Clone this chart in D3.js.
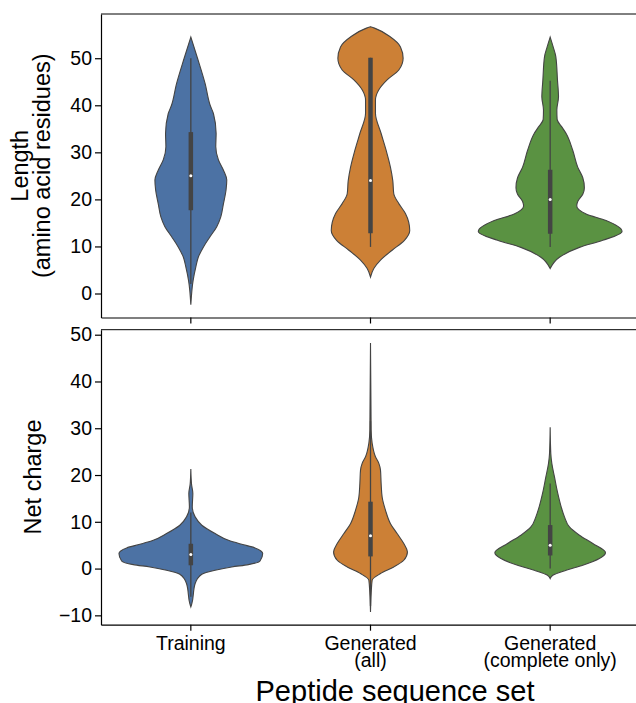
<!DOCTYPE html>
<html>
<head>
<meta charset="utf-8">
<script src="https://cdn.jsdelivr.net/npm/d3@7"></script>
<style>
  body { margin: 0; background: #fff; }
  text { font-family: "Liberation Sans", Arial, sans-serif; }
</style>
</head>
<body>
<div id="chart"></div>
<script>
// categories and colours
const categories = ["Training", "Generated\n(all)", "Generated\n(complete only)"];
const colors = ["#4c72a4", "#cc8036", "#5a9242"];

// density profiles: [value, relative density]
const lengthTraining = [[-2.4,0],[2.8,.032],[5.6,.069],[7.8,.106],[9.9,.176],[12.1,.269],[14.2,.361],[16.3,.417],[19.1,.454],[22,.49],[24.1,.5],[26.2,.454],[28.4,.384],[31.2,.347],[34,.352],[38.2,.315],[40,.269],[44.6,.199],[50,.093],[54.5,0]];
const lengthGenAll = [[3.5,0],[5.3,.046],[7.1,.139],[9.2,.301],[11.3,.472],[13.4,.546],[17,.486],[19.1,.394],[21.2,.324],[24,.31],[26.8,.278],[30.4,.218],[34,.148],[38.3,.069],[41.1,.069],[43.3,.116],[45.4,.231],[47.5,.394],[50,.454],[52.4,.417],[54.5,.278],[56.4,.056],[56.7,0]];
const lengthGenComplete = [[5.3,0],[7.7,.129],[9.8,.407],[11.3,.732],[13.2,1],[15.5,.778],[16.9,.5],[18.6,.37],[19.6,.385],[21.1,.454],[22.5,.476],[24.6,.454],[26.8,.385],[30.4,.315],[34,.222],[35.3,.167],[37,.097],[39,.093],[41.8,.116],[45.3,.102],[50.3,.079],[52.4,.042],[54.5,0]];

const chargeTraining = [[-8.2,0],[-7.5,.014],[-3.2,.06],[-1.22,.153],[-0.36,.338],[0.35,.569],[0.85,.801],[1.63,.963],[3.2,1],[4.42,.893],[5.2,.708],[6.06,.523],[7.49,.338],[9.27,.153],[11.05,.06],[13.2,.02],[16.06,.028],[18,.01],[21.3,0]];
const chargeGenAll = [[-9.3,0],[-5.35,.009],[-2.5,.023],[-1.07,.139],[0.35,.324],[1.78,.463],[3.56,.514],[5.35,.463],[7.5,.37],[9.6,.278],[12.5,.208],[15.3,.162],[18.2,.148],[21.05,.139],[22.5,.116],[23.9,.069],[26.8,.023],[29.6,.009],[48.2,0]];
const chargeGenComplete = [[-2.14,0],[-1.43,.037],[-0.36,.222],[0.71,.454],[2.14,.685],[3.4,.77],[5.35,.593],[7.13,.407],[8.9,.268],[11.05,.199],[13.2,.153],[16.06,.106],[19.6,.06],[22.5,.023],[24.6,.009],[30.2,0]];

// box stats: [whisker low, q1, median, q3, whisker high]
const lengthBoxes = [[2, 17.7, 25, 34.3, 50], [9.9, 12.8, 24, 50.1, 50.1], [9.9, 12.7, 20, 26.3, 45.2]];
const chargeBoxes = [[-6, 0.7, 3, 5.3, 12], [-8, 2.6, 7, 14.3, 31.5], [0, 2.8, 5, 9.3, 18.2]];

const lengthTicks = [0, 10, 20, 30, 40, 50];
const chargeTicks = [-10, 0, 10, 20, 30, 40, 50];

var W = 636, H = 703;
var margins = { left: 101, right: -4 };

var svg = d3.select("#chart").append("svg")
  .attr("width", W).attr("height", H);

var x = d3.scaleBand().domain([0, 1, 2]).range([margins.left, W - margins.right]).padding(0);

function drawPanel(top, bottom, domain, ticks, profiles, boxes, showLabels) {
  var y = d3.scaleLinear().domain(domain).range([bottom, top]);
  var w = d3.scaleLinear().domain([0, 1]).range([0, x.bandwidth() * 0.4]);
  var g = svg.append("g");

  profiles.forEach(function (prof, i) {
    var cx = x(i) + x.bandwidth() / 2;
    var area = d3.area()
      .y(function (d) { return y(d[0]); })
      .x0(function (d) { return cx - w(d[1]); })
      .x1(function (d) { return cx + w(d[1]); })
      .curve(d3.curveMonotoneY);
    g.append("path").datum(prof)
      .attr("d", area)
      .attr("fill", colors[i])
      .attr("stroke", "#444")
      .attr("stroke-width", 1.1);

    var b = boxes[i];
    g.append("line")
      .attr("x1", cx).attr("x2", cx)
      .attr("y1", y(b[0])).attr("y2", y(b[4]))
      .attr("stroke", "#444").attr("stroke-width", 1.3);
    g.append("line")
      .attr("x1", cx).attr("x2", cx)
      .attr("y1", y(b[1])).attr("y2", y(b[3]))
      .attr("stroke", "#444").attr("stroke-width", 4.5);
    g.append("circle")
      .attr("cx", cx).attr("cy", y(b[2])).attr("r", 1.5)
      .attr("fill", "#fff");
  });

  // spines / axes
  var yAxis = g.append("g")
    .attr("transform", "translate(" + margins.left + ",0)")
    .call(d3.axisLeft(y).tickValues(ticks).tickSize(6).tickSizeOuter(0).tickPadding(3))
    .style("font-size", "19.5px");
  yAxis.selectAll("text").attr("fill", "#000");

  var xAxis = g.append("g")
    .attr("transform", "translate(0," + bottom + ")")
    .call(d3.axisBottom(x).tickSize(6).tickSizeOuter(0).tickPadding(5)
      .tickFormat(function (d) { return showLabels ? categories[d] : ""; }))
    .style("font-size", "19.5px");

  xAxis.selectAll(".tick text").each(function (d) {
    var t = d3.select(this);
    if (!showLabels) { t.remove(); return; }
    var lines = categories[d].split("\n");
    t.text(null).attr("fill", "#000");
    lines.forEach(function (ln, k) {
      t.append("tspan").attr("x", 0).attr("dy", k === 0 ? "0.71em" : "17px").text(ln);
    });
  });

  g.append("line")
    .attr("x1", margins.left).attr("x2", W - margins.right)
    .attr("y1", top).attr("y2", top)
    .attr("stroke", "#000");

  g.selectAll(".domain").attr("stroke", "#000").attr("stroke-width", 1.2);
  g.selectAll(".tick line").attr("stroke", "#000").attr("stroke-width", 1.2);
  return y;
}

drawPanel(14, 317.5, [-5.1, 59.4], lengthTicks,
  [lengthTraining, lengthGenAll, lengthGenComplete], lengthBoxes, false);
drawPanel(329.7, 624.7, [-12, 51.07], chargeTicks,
  [chargeTraining, chargeGenAll, chargeGenComplete], chargeBoxes, true);

// axis titles
svg.append("text")
  .attr("transform", "translate(28,165.75) rotate(-90)")
  .attr("text-anchor", "middle")
  .style("font-size", "23.5px")
  .text("Length");
svg.append("text")
  .attr("transform", "translate(49.5,165.75) rotate(-90)")
  .attr("text-anchor", "middle")
  .style("font-size", "23.5px")
  .text("(amino acid residues)");
svg.append("text")
  .attr("transform", "translate(41,477) rotate(-90)")
  .attr("text-anchor", "middle")
  .style("font-size", "23.5px")
  .text("Net charge");
svg.append("text")
  .attr("x", 395).attr("y", 701)
  .attr("text-anchor", "middle")
  .style("font-size", "29px")
  .text("Peptide sequence set");
</script>
</body>
</html>
